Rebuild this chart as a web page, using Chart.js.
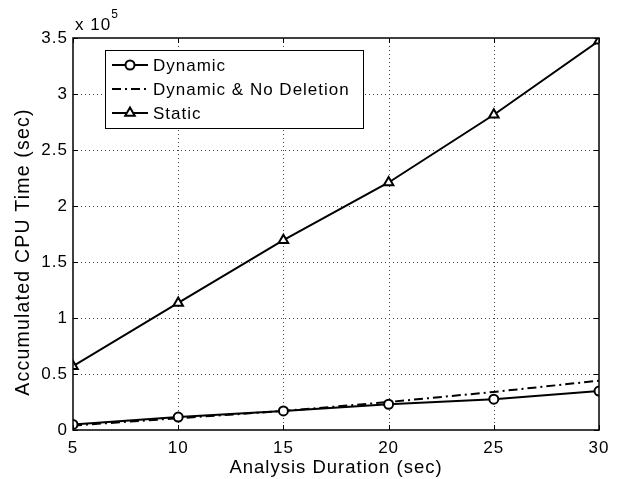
<!DOCTYPE html>
<html>
<head>
<meta charset="utf-8">
<script src="https://cdn.jsdelivr.net/npm/chart.js@4"></script>
<style>
  html, body { margin: 0; padding: 0; background: #fff; }
  #wrap { width: 619px; height: 479px; }
</style>
</head>
<body>
<div id="wrap"><canvas id="cpuChart" width="619" height="479"></canvas></div>
<script>
const durations = [5, 10, 15, 20, 25, 30];
const dynamicCpu = [5000, 11500, 17000, 23000, 27500, 34800];
const dynamicNoDelCpu = [4000, 10500, 17000, 25000, 34000, 44000];
const staticCpu = [57000, 113500, 169500, 221000, 281500, 347500];
const yTicks = [0, 50000, 100000, 150000, 200000, 250000, 300000, 350000];

const FONT = '"Liberation Sans", Arial, sans-serif';
const SPACING = '1px';

function pts(vals) {
  return durations.map((d, i) => ({ x: d, y: vals[i] }));
}

// matlab text is a bit wider than Arial, so add letter spacing everywhere
const wideText = {
  id: 'wideText',
  beforeUpdate(chart) { chart.ctx.letterSpacing = SPACING; },
  beforeLayout(chart) { chart.ctx.letterSpacing = SPACING; },
  beforeDraw(chart) { chart.ctx.letterSpacing = SPACING; }
};

// dotted grid
const dottedGrid = {
  id: 'dottedGrid',
  beforeDatasetsDraw(chart) {
    const { ctx, chartArea: a, scales } = chart;
    ctx.save();
    ctx.strokeStyle = '#444';
    ctx.lineWidth = 1;
    ctx.setLineDash([1, 3]);
    ctx.beginPath();
    durations.slice(1, -1).forEach(d => {
      const x = Math.round(scales.x.getPixelForValue(d)) + 0.5;
      ctx.moveTo(x, a.top); ctx.lineTo(x, a.bottom);
    });
    yTicks.slice(1, -1).forEach(v => {
      const y = Math.round(scales.y.getPixelForValue(v)) + 0.5;
      ctx.moveTo(a.left, y); ctx.lineTo(a.right, y);
    });
    ctx.stroke();
    ctx.restore();
  }
};

// box, inward ticks, y label, exponent label and legend, matlab style
const matlabFrame = {
  id: 'matlabFrame',
  afterDatasetsDraw(chart) {
    const { ctx, chartArea: a, scales } = chart;
    ctx.save();
    ctx.letterSpacing = SPACING;
    ctx.strokeStyle = '#000';
    ctx.lineWidth = 1;
    ctx.beginPath();
    durations.forEach(d => {
      const x = Math.round(scales.x.getPixelForValue(d)) + 0.5;
      ctx.moveTo(x, a.bottom); ctx.lineTo(x, a.bottom - 5);
      ctx.moveTo(x, a.top); ctx.lineTo(x, a.top + 5);
    });
    yTicks.forEach(v => {
      const y = Math.round(scales.y.getPixelForValue(v)) + 0.5;
      ctx.moveTo(a.left, y); ctx.lineTo(a.left + 5, y);
      ctx.moveTo(a.right, y); ctx.lineTo(a.right - 5, y);
    });
    ctx.stroke();
    ctx.lineWidth = 1.5;
    ctx.strokeRect(a.left, a.top, a.right - a.left, a.bottom - a.top);

    // y axis label
    ctx.save();
    ctx.translate(24, 252);
    ctx.rotate(-Math.PI / 2);
    ctx.fillStyle = '#000';
    ctx.font = '19.5px ' + FONT;
    ctx.letterSpacing = '1.2px';
    ctx.textAlign = 'center';
    ctx.textBaseline = 'middle';
    ctx.fillText('Accumulated CPU Time (sec)', 0, 0);
    ctx.restore();

    // exponent
    ctx.fillStyle = '#000';
    ctx.font = '17px ' + FONT;
    ctx.textBaseline = 'alphabetic';
    ctx.textAlign = 'left';
    const base = 'x 10';
    ctx.fillText(base, a.left + 2, a.top - 8);
    const w = ctx.measureText(base).width;
    ctx.font = '12px ' + FONT;
    ctx.fillText('5', a.left + 2 + w, a.top - 20);

    // legend
    const lx = a.left + 32, ly = a.top + 12, lw = 258, lh = 78;
    ctx.fillStyle = '#fff';
    ctx.fillRect(lx, ly, lw, lh);
    ctx.lineWidth = 1;
    ctx.strokeStyle = '#000';
    ctx.strokeRect(lx + 0.5, ly + 0.5, lw, lh);
    const rows = [15, 39, 63];
    chart.data.datasets.forEach((ds, i) => {
      const y = ly + rows[i];
      ctx.save();
      ctx.strokeStyle = '#000';
      ctx.lineWidth = ds.borderWidth;
      ctx.setLineDash(ds.borderDash || []);
      ctx.beginPath();
      ctx.moveTo(lx + 7, y); ctx.lineTo(lx + 43, y);
      ctx.stroke();
      ctx.restore();
      if (ds.pointRadius > 0) {
        ctx.save();
        ctx.lineWidth = ds.pointBorderWidth;
        ctx.strokeStyle = '#000';
        ctx.fillStyle = '#fff';
        Chart.helpers.drawPoint(ctx, {
          pointStyle: ds.pointStyle, radius: ds.pointRadius, borderWidth: ds.pointBorderWidth, rotation: 0
        }, lx + 25, y);
        ctx.restore();
      }
      ctx.fillStyle = '#000';
      ctx.font = '17px ' + FONT;
      ctx.textBaseline = 'middle';
      ctx.fillText(ds.label, lx + 48, y + 1);
    });
    ctx.restore();
  }
};

new Chart(document.getElementById('cpuChart'), {
  type: 'line',
  data: {
    datasets: [
      {
        label: 'Dynamic',
        data: pts(dynamicCpu),
        borderColor: '#000',
        borderWidth: 2,
        pointStyle: 'circle',
        pointRadius: 4.5,
        pointBorderWidth: 2,
        pointBackgroundColor: '#fff',
        pointBorderColor: '#000'
      },
      {
        label: 'Dynamic & No Deletion',
        data: pts(dynamicNoDelCpu),
        borderColor: '#000',
        borderWidth: 2,
        borderDash: [9, 4, 2, 4],
        pointRadius: 0
      },
      {
        label: 'Static',
        data: pts(staticCpu),
        borderColor: '#000',
        borderWidth: 2,
        pointStyle: 'triangle',
        pointRadius: 5.5,
        pointBorderWidth: 2,
        pointBackgroundColor: '#fff',
        pointBorderColor: '#000'
      }
    ]
  },
  options: {
    responsive: false,
    animation: false,
    layout: { padding: { top: 38, right: 20, left: 0, bottom: 0 } },
    plugins: { legend: { display: false }, tooltip: { enabled: false } },
    scales: {
      x: {
        type: 'linear',
        min: 5, max: 30,
        afterBuildTicks: s => { s.ticks = durations.map(v => ({ value: v })); },
        afterFit: s => { s.height = 49; },
        grid: { display: false, drawTicks: false },
        border: { display: false },
        ticks: { color: '#000', font: { family: FONT, size: 17 }, padding: 8, maxRotation: 0 },
        title: { display: true, text: 'Analysis Duration (sec)', color: '#000', font: { family: FONT, size: 18.5 }, padding: { top: 0, bottom: 0 } }
      },
      y: {
        min: 0, max: 350000,
        afterBuildTicks: s => { s.ticks = yTicks.map(v => ({ value: v })); },
        afterFit: s => { s.width = 73; },
        grid: { display: false, drawTicks: false },
        border: { display: false },
        ticks: { color: '#000', font: { family: FONT, size: 17 }, padding: 5, callback: v => String(v / 100000) },
        title: { display: false }
      }
    }
  },
  plugins: [wideText, dottedGrid, matlabFrame]
});
</script>
</body>
</html>
